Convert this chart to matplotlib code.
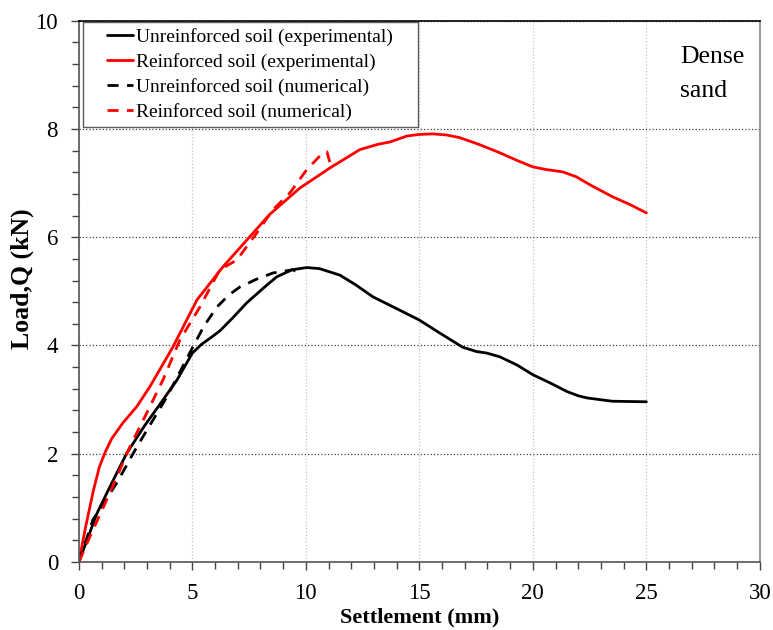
import matplotlib
matplotlib.use("Agg")
import matplotlib.pyplot as plt
from matplotlib.ticker import MultipleLocator
from matplotlib.legend_handler import HandlerLine2D

# Unreinforced soil (experimental)
unr_exp_x = [0, 0.4, 0.8, 1.37, 2.11, 2.9, 3.7, 4.32, 5.0, 5.4, 5.8, 6.21, 6.8, 7.4, 8.1, 8.72, 9.4,
             10.04, 10.6, 11.5, 12.2, 12.95, 14.1, 15.0, 15.9, 16.9, 17.5, 17.97, 18.55, 19.3, 20.0,
             20.8, 21.5, 22.0, 22.4, 23.5, 25.0]
unr_exp_y = [0, 0.45, 0.9, 1.39, 2.01, 2.52, 2.99, 3.36, 3.86, 4.02, 4.14, 4.27, 4.52, 4.79, 5.05, 5.27,
             5.40, 5.44, 5.42, 5.30, 5.12, 4.90, 4.66, 4.47, 4.23, 3.97, 3.89, 3.86, 3.79, 3.64, 3.46,
             3.30, 3.15, 3.07, 3.03, 2.97, 2.96]

# Reinforced soil (experimental)
rei_exp_x = [0, 0.3, 0.63, 0.9, 1.15, 1.45, 1.94, 2.55, 3.13, 4.14, 5.2, 6.34, 7.53, 8.4, 9.3, 9.74,
             11.06, 12.38, 13.2, 13.7, 14.45, 15.0, 15.6, 16.2, 16.78, 17.6, 18.55, 19.3, 20.0,
             20.6, 21.3, 21.9, 22.6, 23.5, 24.3, 25.0]
rei_exp_y = [0, 0.65, 1.3, 1.75, 2.02, 2.28, 2.57, 2.87, 3.24, 3.97, 4.84, 5.45, 6.01, 6.42, 6.75, 6.91,
             7.28, 7.62, 7.72, 7.76, 7.87, 7.90, 7.91, 7.89, 7.84, 7.72, 7.56, 7.42, 7.30,
             7.25, 7.21, 7.12, 6.95, 6.75, 6.60, 6.45]

# Unreinforced soil (numerical)
unr_num_x = [0, 0.62, 1.67, 2.56, 3.88, 5.02, 5.5, 6.08, 6.6, 7.09, 7.8, 8.55, 9.43, 9.6, 9.74]
unr_num_y = [0, 0.78, 1.46, 2.13, 3.05, 3.97, 4.35, 4.71, 4.93, 5.08, 5.22, 5.34, 5.40, 5.36, 5.27]

# Reinforced soil (numerical)
rei_num_x = [0, 0.48, 1.37, 2.25, 3.13, 3.7, 4.45, 5.33, 6.21, 6.96, 7.84, 8.55, 9.3, 10.04,
             10.75, 10.93, 11.06]
rei_num_y = [0, 0.46, 1.28, 2.13, 2.87, 3.36, 4.10, 4.71, 5.40, 5.58, 6.08, 6.51, 6.82, 7.25,
             7.56, 7.58, 7.38]

labels = ["Unreinforced soil (experimental)", "Reinforced soil (experimental)",
          "Unreinforced soil (numerical)", "Reinforced soil (numerical)"]

serif = ["Liberation Serif", "DejaVu Serif"]
plt.rcParams['font.family'] = serif


class ShiftedLine(HandlerLine2D):
    """Line handle drawn only in the right part of the handle box."""
    def __init__(self, shift, **kw):
        super().__init__(**kw)
        self.shift = shift

    def create_artists(self, legend, orig_handle, xdescent, ydescent, width, height,
                       fontsize, trans):
        s = self.shift * fontsize
        return super().create_artists(legend, orig_handle, xdescent - s,
                                      ydescent, width - s, height, fontsize, trans)


fig = plt.figure(figsize=(7.73, 6.3), dpi=100)
ax = fig.add_axes([0.102, 0.108, 0.881, 0.859])

lw = 2.0
ax.plot(unr_exp_x, unr_exp_y, color="black", lw=lw, label=labels[0], solid_capstyle="round")
ax.plot(rei_exp_x, rei_exp_y, color="red", lw=lw, label=labels[1], solid_capstyle="round")
ax.plot(unr_num_x, unr_num_y, color="black", lw=lw, ls=(0, (4, 3)), label=labels[2])
ax.plot(rei_num_x, rei_num_y, color="red", lw=lw, ls=(0, (4, 3)), label=labels[3])

ax.set_xlim(0, 30)
ax.set_ylim(0, 10)
ax.xaxis.set_major_locator(MultipleLocator(5))
ax.xaxis.set_minor_locator(MultipleLocator(1))
ax.yaxis.set_major_locator(MultipleLocator(2))
ax.yaxis.set_minor_locator(MultipleLocator(0.4))

ax.tick_params(axis="both", which="both", direction="out", labelsize=16.5, color="#444444")
ax.tick_params(which="major", length=6, width=1)
ax.tick_params(which="minor", length=5, width=1)
ax.tick_params(axis="x", which="major", pad=9)
ax.tick_params(axis="y", which="major", pad=9)

ax.grid(axis="x", which="major", color="#c4c4c4", ls=":", lw=0.9)
ax.grid(axis="y", which="major", color="#444444", ls=":", lw=0.9)
ax.set_axisbelow(True)

for s in ["left", "bottom"]:
    ax.spines[s].set_color("#555555")
    ax.spines[s].set_linewidth(1.2)
ax.spines["top"].set_color("black")
ax.spines["top"].set_linewidth(1.2)
ax.spines["right"].set_color("#888888")
ax.spines["right"].set_linewidth(1.2)

ax.set_xlabel("Settlement (mm)", fontsize=16, fontweight="bold", labelpad=3)
ax.set_ylabel("Load,Q (kN)", fontsize=18.5, fontweight="bold")
ax.yaxis.set_label_coords(-0.066, 0.524)

handles, _ = ax.get_legend_handles_labels()
hmap = {h: ShiftedLine(0.93) for h in handles}
leg = ax.legend(handles, labels, loc="upper left", bbox_to_anchor=(0.006, 0.0, 0.492, 0.998),
                mode="expand", fontsize=14, frameon=True, handler_map=hmap,
                fancybox=False, edgecolor="#333333", handlelength=2.3, handletextpad=0.15,
                labelspacing=0.37, borderpad=0.3, borderaxespad=0.0)
leg.get_frame().set_linewidth(1.0)

ax.text(0.883, 0.953, "Dense\nsand", transform=ax.transAxes, fontsize=18.5, va="top", ha="left",
        linespacing=1.7)

fig.savefig("out.png", dpi=100)
